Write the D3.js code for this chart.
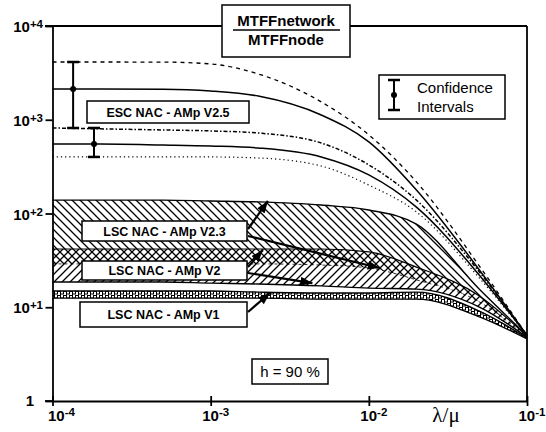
<!DOCTYPE html>
<html>
<head>
<meta charset="utf-8">
<script src="https://cdn.jsdelivr.net/npm/d3@7"></script>
<style>
  body { margin: 0; background: #fff; }
  text { font-family: "Liberation Sans", Arial, Helvetica, sans-serif; }
</style>
</head>
<body>
<svg id="fig" width="546" height="432"></svg>
<script>
// lambda / mu grid
const lamMu = [1e-4, 2e-4, 5e-4, 1e-3, 2e-3, 5e-3, 1e-2, 2e-2, 5e-2, 1e-1];

// ESC NAC - AMp V2.5 : two estimates, each with its confidence bounds
const escHiUpper = [4130, 4130, 4120, 3940, 3080, 1550, 690, 217, 27.5, 5];
const escHi      = [2130, 2130, 2120, 2030, 1790, 1125, 580, 178, 25, 5];
const escLoUpper = [817, 800, 778, 760, 722, 565, 330, 139, 23.8, 5];
const escLo      = [551, 551, 538, 525, 500, 401, 258, 117, 22, 5];
const escLoLower = [401, 401, 401, 401, 391, 321, 201, 104, 20.5, 5];

// LSC bands (lower / upper bound)
const v23Top = [139, 139, 139, 136, 133, 123, 109, 77, 15.6, 5];
const v23Bot = [29, 29, 29, 29, 29, 28.2, 26.2, 19.6, 11.4, 4.8];
const v2Top  = [41.8, 41.8, 41.8, 41.8, 41.8, 41.8, 38.9, 26.8, 13.2, 4.9];
const v2Bot  = [18.6, 18.6, 18.6, 18.1, 17.7, 16.9, 16.0, 15.6, 10.05, 4.8];
const v1Top  = [14.9, 14.9, 14.9, 14.9, 14.5, 14.2, 14.2, 14.5, 9.1, 4.7];
const v1Bot  = [12.5, 12.5, 12.5, 12.5, 12.5, 12.2, 12.2, 12.2, 7.9, 4.6];

// confidence intervals shown at small lambda/mu
const ciX   = [1.35e-4, 1.83e-4];
const ciMid = [2130, 551];
const ciLow = [817, 401];
const ciHigh = [4130, 817];

const xTicks = [1e-4, 1e-3, 1e-2, 1e-1];
const xTickExp = ["-4", "-3", "-2", "-1"];
const yTicks = [1, 10, 100, 1000, 10000];
const yTickExp = ["", "+1", "+2", "+3", "+4"];

const svg = d3.select("#fig");
const pL = 52.5, pR = 527, pT = 26, pB = 401;

const xSc = d3.scaleLog().domain([1e-4, 1e-1]).range([pL, pR]);
const ySc = d3.scaleLog().domain([1, 1e4]).range([pB, pT]);

// patterns and markers
const defs = svg.append("defs");
defs.append("pattern").attr("id", "back")
    .attr("patternUnits", "userSpaceOnUse").attr("width", 8).attr("height", 8)
    .append("path").attr("d", "M-1,-1 L9,9 M-1,7 L1,9 M7,-1 L9,1")
    .attr("stroke", "#000").attr("stroke-width", 1.3);
defs.append("pattern").attr("id", "fwd")
    .attr("patternUnits", "userSpaceOnUse").attr("width", 8).attr("height", 8)
    .append("path").attr("d", "M-1,9 L9,-1 M-1,1 L1,-1 M7,9 L9,7")
    .attr("stroke", "#000").attr("stroke-width", 1.3);
const p1 = defs.append("pattern").attr("id", "tex")
    .attr("patternUnits", "userSpaceOnUse").attr("width", 6).attr("height", 4);
p1.append("rect").attr("width", 6).attr("height", 4).attr("fill", "#fff");
p1.append("path").attr("d", "M0.5,0 V4 M3.5,0 V2 M0,2 H4 M3,3.5 H6")
  .attr("stroke", "#000").attr("stroke-width", 1);
defs.append("marker").attr("id", "arr")
    .attr("markerUnits", "userSpaceOnUse").attr("markerWidth", 12).attr("markerHeight", 9)
    .attr("refX", 12).attr("refY", 4.5).attr("orient", "auto")
    .append("path").attr("d", "M0,0 L12,4.5 L0,9 z").attr("fill", "#000");

// bands
const band = (lo, hi) => d3.area()
    .x((d, i) => xSc(lamMu[i]))
    .y0((d, i) => ySc(lo[i]))
    .y1((d, i) => ySc(hi[i]))
    .curve(d3.curveMonotoneX)(lamMu);

svg.append("path").attr("d", band(v23Bot, v23Top)).attr("fill", "url(#back)");
svg.append("path").attr("d", band(v2Bot, v2Top)).attr("fill", "url(#fwd)");
svg.append("path").attr("d", band(v1Bot, v1Top)).attr("fill", "url(#tex)");

const line = vals => d3.line()
    .x((d, i) => xSc(lamMu[i]))
    .y((d, i) => ySc(vals[i]))
    .curve(d3.curveMonotoneX)(lamMu);

const edges = [
  [v23Top, 1.4, null], [v23Bot, 0.8, "3,3"], [v2Top, 1.2, null],
  [v2Bot, 1.4, null], [v1Top, 1.4, null], [v1Bot, 1.4, null]
];
edges.forEach(e => svg.append("path").attr("d", line(e[0]))
    .attr("fill", "none").attr("stroke", "#000")
    .attr("stroke-width", e[1]).attr("stroke-dasharray", e[2]));

// ESC curves
const escLines = [
  [escHiUpper, 1.3, "4,4"], [escHi, 1.5, null], [escLoUpper, 1.5, "4,2,1.5,2"],
  [escLo, 1.5, null], [escLoLower, 1.2, "1.2,3"]
];
escLines.forEach(e => svg.append("path").attr("d", line(e[0]))
    .attr("fill", "none").attr("stroke", "#000")
    .attr("stroke-width", e[1]).attr("stroke-dasharray", e[2]));

// frame and axes
svg.append("line").attr("x1", 45).attr("x2", pR).attr("y1", pT).attr("y2", pT)
   .attr("stroke", "#000").attr("stroke-width", 1.8);
svg.append("line").attr("x1", pR).attr("x2", pR).attr("y1", pT).attr("y2", pB)
   .attr("stroke", "#000").attr("stroke-width", 1.8);

const yAx = svg.append("g").attr("transform", `translate(${pL},0)`)
   .call(d3.axisLeft(ySc).tickValues(yTicks).tickSize(7).tickSizeOuter(0).tickFormat(""));
const xAx = svg.append("g").attr("transform", `translate(0,${pB})`)
   .call(d3.axisBottom(xSc).tickValues(xTicks).tickSize(5).tickSizeOuter(0).tickFormat(""));
[yAx, xAx].forEach(g => {
  g.selectAll("path, line").attr("stroke", "#000").attr("stroke-width", 1.8);
});
xAx.selectAll(".tick line").attr("y1", -5);
svg.append("line").attr("x1", 45).attr("x2", pL).attr("y1", pB).attr("y2", pB)
   .attr("stroke", "#000").attr("stroke-width", 1.8);

yTicks.forEach((t, i) => {
  if (i === 0) {
    svg.append("text").attr("x", 30).attr("y", ySc(t) + 5).attr("text-anchor", "middle")
       .attr("font-size", 15).attr("font-weight", "bold").text("1");
    return;
  }
  const tx = svg.append("text").attr("x", 43).attr("y", ySc(t) + 6)
     .attr("text-anchor", "end").attr("font-size", 15).attr("font-weight", "bold");
  tx.append("tspan").text("10");
  tx.append("tspan").attr("font-size", 11.5).attr("dy", -4).text(yTickExp[i]);
});
xTicks.forEach((t, i) => {
  const tx = svg.append("text").attr("x", xSc(t) + (i === 0 ? 9 : 5)).attr("y", 421)
     .attr("text-anchor", "middle").attr("font-size", 15).attr("font-weight", "bold");
  tx.append("tspan").text("10");
  tx.append("tspan").attr("font-size", 11.5).attr("dy", -5).text(xTickExp[i]);
});
svg.append("text").attr("x", 446).attr("y", 422).attr("text-anchor", "middle")
   .style("font-family", "'Liberation Serif', 'DejaVu Serif', serif")
   .attr("font-size", 21).text("λ/μ");

// confidence interval bars
ciX.forEach((x, i) => {
  const cx = xSc(x);
  svg.append("line").attr("x1", cx).attr("x2", cx)
     .attr("y1", ySc(ciLow[i])).attr("y2", ySc(ciHigh[i]))
     .attr("stroke", "#000").attr("stroke-width", 2);
  [ciLow[i], ciHigh[i]].forEach(v => svg.append("line")
     .attr("x1", cx - 6).attr("x2", cx + 6).attr("y1", ySc(v)).attr("y2", ySc(v))
     .attr("stroke", "#000").attr("stroke-width", 2.5));
  svg.append("circle").attr("cx", cx).attr("cy", ySc(ciMid[i])).attr("r", 3);
});

// label boxes
function box(x, y, w, h, sw) {
  svg.append("rect").attr("x", x).attr("y", y).attr("width", w).attr("height", h)
     .attr("fill", "#fff").attr("stroke", "#000").attr("stroke-width", sw || 1.5);
}
function label(x, y, s, size, bold) {
  svg.append("text").attr("x", x).attr("y", y).attr("text-anchor", "middle")
     .attr("font-size", size).attr("font-weight", bold ? "bold" : "normal").text(s);
}

const labels = [
  ["ESC NAC - AMp V2.5", 87, 101, 162, 22],
  ["LSC NAC - AMp V2.3", 82, 221, 165, 20],
  ["LSC NAC - AMp V2", 82, 261, 165, 19],
  ["LSC NAC - AMp V1", 80, 302, 167, 25]
];
labels.forEach(l => {
  box(l[1], l[2], l[3], l[4]);
  label(l[1] + l[3] / 2, l[2] + l[4] / 2 + 4.5, l[0], 12.5, true);
});

// arrows from label boxes to the bands
const arrows = [
  [[248, 229], [2.3e-3, 136]],
  [[248, 236], [1.17e-2, 26.2]],
  [[248, 267], [2.14e-3, 40.8]],
  [[248, 273], [4.4e-3, 18.1]],
  [[248, 312], [2.37e-3, 14.2]]
];
arrows.forEach(a => svg.append("line")
   .attr("x1", a[0][0]).attr("y1", a[0][1])
   .attr("x2", xSc(a[1][0])).attr("y2", ySc(a[1][1]))
   .attr("stroke", "#000").attr("stroke-width", 2.2).attr("marker-end", "url(#arr)"));

// title box
box(222, 5, 128, 52);
label(286, 26, "MTFFnetwork", 15, true);
svg.append("line").attr("x1", 233).attr("x2", 340).attr("y1", 30).attr("y2", 30)
   .attr("stroke", "#000").attr("stroke-width", 1.5);
label(286, 45, "MTFFnode", 15, true);

// legend
box(379, 75, 126, 44);
svg.append("line").attr("x1", 394).attr("x2", 394).attr("y1", 80).attr("y2", 110)
   .attr("stroke", "#000").attr("stroke-width", 2);
[80, 110].forEach(y => svg.append("line").attr("x1", 388).attr("x2", 400)
   .attr("y1", y).attr("y2", y).attr("stroke", "#000").attr("stroke-width", 2.5));
svg.append("circle").attr("cx", 394).attr("cy", 95).attr("r", 3);
svg.append("text").attr("x", 417).attr("y", 93).attr("font-size", 15).text("Confidence");
svg.append("text").attr("x", 417).attr("y", 112).attr("font-size", 15).text("Intervals");

// h box
box(252, 359, 76, 25);
label(290, 377, "h = 90 %", 15, false);
</script>
</body>
</html>
